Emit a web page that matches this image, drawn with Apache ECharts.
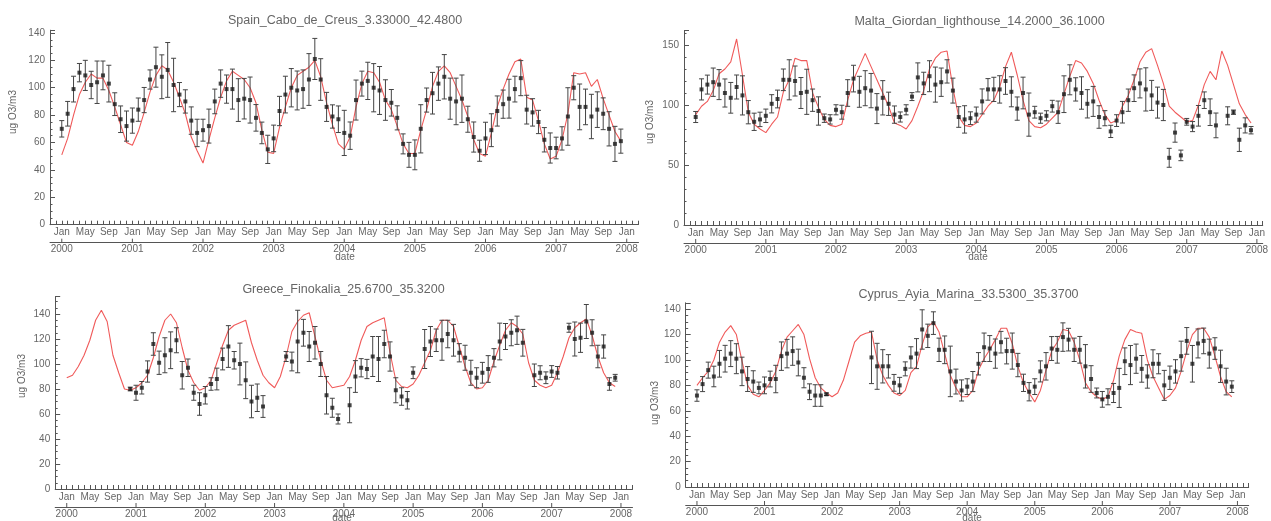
<!DOCTYPE html>
<html><head><meta charset="utf-8">
<script src="https://cdn.jsdelivr.net/npm/echarts@6/dist/echarts.min.js"></script>
<style>html,body{margin:0;padding:0;background:#fff}#c{width:1271px;height:521px}</style>
</head><body><div id="c"></div>
<script>
const years = [2000,2001,2002,2003,2004,2005,2006,2007,2008];
const monthNames = ['Jan','Feb','Mar','Apr','May','Jun','Jul','Aug','Sep','Oct','Nov','Dec'];
const yAxisName = 'ug O3/m3';
const xAxisName = 'date';
const titles = ['Spain_Cabo_de_Creus_3.33000_42.4800','Malta_Giordan_lighthouse_14.2000_36.1000','Greece_Finokalia_25.6700_35.3200','Cyprus_Ayia_Marina_33.5300_35.3700'];

const spainModel = [
51,63,80,95,104,110,107,107,98,86,73,60,
58,68,82,97,109,116,113,104,93,81,64,54,
45,62,78,93,105,112,109,106,100,89,69,53,
52,71,86,100,109,112,115,120,108,89,73,59,
55,64,86,103,112,111,104,91,84,72,59,52,
52,69,84,101,112,116,111,101,91,79,62,52,
50,67,86,99,110,119,121,93,91,76,59,48,
50,62,81,111,110,111,101,106,92,80,68,61];
const spainObs = [
70,81,99,111,109,102,104,109,103,88,77,72,
76,84,91,106,115,108,113,102,95,90,76,67,
69,72,90,103,99,99,91,92,91,78,67,55,
63,83,95,100,98,99,106,121,106,86,79,77,
67,65,91,103,105,100,98,91,89,78,59,51,
51,70,91,96,103,108,92,90,92,77,64,54,
63,69,83,88,92,99,107,84,82,75,62,56,
56,63,79,100,86,86,79,84,81,70,59,61];
const spainErr = [
6,9,9.4,6.7,11,10,15.5,10.5,13.4,8.3,9.7,11,
9.2,8.5,9.2,7,14.6,16,20,19.5,8.8,8.5,10,10,
8,12.4,9,10,10.3,14.6,15.6,14.8,16.8,9.7,7.9,10.3,
9.7,10.7,13.4,14,14.2,14,18.9,15,15.2,10.6,8.5,9.7,
16.5,10,14.6,9.1,13.6,17.6,17.5,14.8,9.7,8.8,7.3,9.1,
10.9,17.6,8.8,15.2,12.2,16.2,15,17,17.3,9.5,11,7.7,
11.8,12,11,10.3,14.2,9.4,12.8,10.5,10,8.5,8.9,11,
7.9,8.5,21,8.8,16.7,13,16.2,13,11.6,12.5,12.8,8.8];

const maltaModel = [
92,99,103,112,126,130,136,155,125,94,84,80,
77,84,90,111,121,139,137,137,110,98,88,83,
82,84,104,121,132,143,132,121,110,99,85,83,
80,87,99,112,130,139,144,145,114,90,83,82,
85,92,99,104,115,132,144,125,104,87,82,81,
84,89,94,109,124,137,135,128,118,104,92,85,
87,99,108,121,136,144,147,133,118,99,94,90,
86,87,100,117,128,121,145,133,117,101,92,85];
const maltaObs = [
90,113,117,119,117,110,106,115,108,94,86,88,
91,101,105,121,121,120,110,111,104,95,89,88,
96,94,110,122,111,114,112,97,106,101,92,90,
96,107,123,118,124,117,119,128,112,90,88,89,
92,103,113,113,113,120,111,97,110,92,94,89,
91,99,94,109,121,113,110,101,103,90,89,78,
87,94,104,114,118,113,108,102,100,56,77,58,
86,82,91,104,94,83,null,91,94,71,83,79];
const maltaErr = [
4.6,8.8,7.9,11.8,12.5,11.7,12.8,10,16.3,9.7,7.2,6,
5.6,7.6,7.4,9,16.7,12.5,12.9,18.8,9.3,11.8,3.5,3.9,
4.2,5.8,11.1,11.1,12.9,14.6,14.3,12.5,14.3,9.7,7.2,4.2,
4.2,3.3,12.1,9.3,12.9,14.6,11.8,9.7,10.4,8.6,11.4,5.3,
6.3,10.4,9,10.1,11.4,11.1,12.5,9.7,13.2,18,4.9,4.2,
4.2,4.9,9.3,15.3,12.5,9.7,13.5,11.8,12.5,9.4,6.3,5.1,
4.9,9,9.3,11.1,12.1,18,12.5,12.9,13,7.9,8,4.4,
2.8,4.2,8.6,6.9,11.1,10.3,null,7.5,1.8,9.7,6.3,3.1];

const greeceModel = [
89,91,98,107,119,135,143,134,107,93,80,79,
81,85,91,105,122,135,140,133,113,95,85,79,
81,87,101,115,127,131,133,135,117,103,91,85,
81,90,106,126,134,139,141,122,103,87,81,82,
83,90,103,119,130,133,135,137,109,87,82,81,
84,91,101,111,127,135,135,130,114,98,85,80,
81,87,102,115,127,133,130,124,101,87,83,81,
83,93,106,121,129,133,136,123,106,93,85,82];
const greeceObs = [
null,null,null,null,null,null,null,null,null,null,null,80,
77,81,94,116,101,107,111,119,91,97,77,68,
75,84,88,104,114,103,100,87,70,73,66,null,
null,null,106,102,118,125,114,117,100,75,65,56,
null,67,90,97,96,106,104,116,106,79,74,71,
93,null,112,118,119,119,124,119,109,105,93,89,
93,96,105,118,122,125,127,117,null,91,93,89,
94,93,null,129,120,121,134,125,106,114,84,89];
const greeceErr = [
null,null,null,null,null,null,null,null,null,null,null,1.5,
6,5,8.5,9,9.3,14,14.7,10,11,7,6,9,
7,5,8.7,8.7,16.7,7,16.7,14.7,13,11,8.7,null,
null,null,4,7.5,25,10.7,12,13,10,15,7.6,4,
null,14,12.7,7.3,7.7,16,18,11,11.7,10,7,7,
4.7,null,15.6,12,9,16,11,12.7,7.3,10,10,8,
8.3,10.7,7.3,14.7,10.4,10.4,11.3,10.7,null,9,5.6,4.7,
4.7,5,null,3.6,13.6,11.7,13.6,10.4,9,9.3,5,2.7];

const cyprusModel = [
80,86,91,100,114,122,127,120,99,80,73,71,
76,82,91,107,118,123,128,120,101,86,78,74,
71,74,84,99,114,119,121,122,100,88,80,74,
72,76,90,95,112,126,130,122,105,88,78,71,
71,76,92,101,108,116,125,125,113,95,82,74,
67,76,92,107,114,124,123,114,100,82,75,71,
69,71,84,103,116,124,122,121,100,87,78,69,
72,78,91,107,120,125,125,118,103,87,75,71];
const cyprusObs = [
72,81,92,87,97,101,105,101,91,85,83,78,
80,85,85,103,105,107,98,86,75,72,72,73,
null,null,null,null,null,null,null,102,95,95,95,82,
80,93,102,105,124,119,129,108,108,91,83,76,
79,83,97,110,109,105,114,107,107,96,82,75,
79,91,95,109,108,118,116,108,108,95,85,74,
69,71,74,78,99,96,101,93,87,97,97,80,
86,91,103,115,97,113,115,105,109,95,83,79];
const cyprusErr = [
4.5,5.9,6.3,8.1,10.5,10.5,10.2,11.8,11.2,9.8,8.5,4.6,
6.6,6.2,10.8,11.2,11.2,11.2,10.5,7.9,6.2,8.5,8.5,1,
null,null,null,null,null,null,null,20.6,18.1,13.1,9.2,6.6,
6.3,5.5,8.4,11.8,15.5,9.2,8.9,9.2,10.9,19.9,9.8,8.3,
6.2,7.9,8.8,11.2,10.2,11.5,8.5,10.1,14.2,9.2,6.8,7.2,
6.2,8.3,10.8,9.4,10.5,11.2,8.9,9.2,10.5,17.1,10.5,3.9,
6.2,6.3,7.5,15.4,10.5,15.4,11.5,10.5,9.2,11,7.9,11.8,
9.2,9.2,11.8,10.5,14.4,11.4,10.1,11.4,8.5,12.7,10.5,4.6];

// ---- layout (positions / styles) ----
const FONT = '"Liberation Sans", Arial, sans-serif';
const TXT = '#666';
const AX = '#555';
const panels = [
  {title:titles[0], model:spainModel, obs:spainObs, err:spainErr,
   box:{left:50, top:30.2, width:588.5, height:194.5}, yMax:142, yInt:20, yMinor:4, xMax:98,
   titleXY:[345,21], yNameXY:[13,112], dateXY:[345,257]},
  {title:titles[1], model:maltaModel, obs:maltaObs, err:maltaErr,
   box:{left:684, top:30.6, width:582.6, height:194.4}, yMax:162, yInt:50, yMinor:5, xMax:97,
   titleXY:[979.5,22], yNameXY:[650,122], dateXY:[978,257]},
  {title:titles[2], model:greeceModel, obs:greeceObs, err:greeceErr,
   box:{left:55.2, top:296.5, width:577.3, height:192.5}, yMax:154, yInt:20, yMinor:4, xMax:98,
   titleXY:[343.5,290], yNameXY:[22,376], dateXY:[342,518]},
  {title:titles[3], model:cyprusModel, obs:cyprusObs, err:cyprusErr,
   box:{left:685.7, top:302.8, width:563, height:184.2}, yMax:145, yInt:20, yMinor:4, xMax:98,
   titleXY:[968.5,295], yNameXY:[655.5,403], dateXY:[972,518]}
];

function monthLabel(v){
  const m = Math.round(v);
  if (m < 0 || m > 96 || m % 4 !== 0) return '';
  return monthNames[m % 12];
}
function yearLabel(v){
  const m = Math.round(v);
  if (m < 0 || m % 12 !== 0) return '';
  const y = years[m / 12];
  return y === undefined ? '' : String(y);
}

const grid = [], xAxis = [], yAxis = [], series = [], graphic = [];
panels.forEach((p, i) => {
  grid.push(Object.assign({containLabel:false}, p.box));
  xAxis.push({
    type:'value', gridIndex:i, min:-2, max:p.xMax, interval:1, position:'bottom',
    axisLine:{show:true, onZero:false, lineStyle:{color:AX, width:1}},
    axisTick:{show:true, inside:true, length:4, lineStyle:{color:AX, width:1}},
    axisLabel:{interval:0, margin:3, fontSize:10, color:TXT, fontFamily:FONT, formatter:monthLabel,
      showMinLabel:true, showMaxLabel:true},
    splitLine:{show:false}
  });
  xAxis.push({
    type:'value', gridIndex:i, min:-2, max:p.xMax, interval:1, position:'bottom', offset:18,
    axisLine:{show:true, onZero:false, lineStyle:{color:AX, width:1}},
    axisTick:{show:false},
    axisLabel:{interval:0, margin:2, fontSize:10, color:TXT, fontFamily:FONT, formatter:yearLabel,
      showMinLabel:true, showMaxLabel:true},
    splitLine:{show:false}
  });
  yAxis.push({
    type:'value', gridIndex:i, min:0, max:p.yMax, interval:p.yInt,
    axisLine:{show:true, onZero:false, lineStyle:{color:AX, width:1}},
    axisTick:{show:true, inside:true, length:5, lineStyle:{color:AX}},
    minorTick:{show:true, splitNumber:p.yMinor, length:2.5, lineStyle:{color:AX}},
    axisLabel:{margin:5, fontSize:10, color:TXT, fontFamily:FONT, showMaxLabel:false},
    splitLine:{show:false}
  });
  const xi = 2 * i;
  series.push({
    type:'line', xAxisIndex:xi, yAxisIndex:i, showSymbol:false, silent:true, z:2,
    lineStyle:{color:'#f05a5a', width:1.1},
    data:p.model.map((v, m) => [m, v])
  });
  const errData = [];
  p.obs.forEach((v, m) => { if (v !== null && p.err[m] !== null) errData.push([m, v - p.err[m], v + p.err[m]]); });
  series.push({
    type:'custom', xAxisIndex:xi, yAxisIndex:i, silent:true, z:3,
    data:errData,
    renderItem:(params, api) => {
      const x = api.value(0);
      const a = api.coord([x, api.value(1)]);
      const b = api.coord([x, api.value(2)]);
      const w = 2.5;
      const st = {stroke:'#444', lineWidth:1};
      return {type:'group', children:[
        {type:'line', shape:{x1:a[0], y1:a[1], x2:b[0], y2:b[1]}, style:st},
        {type:'line', shape:{x1:a[0]-w, y1:a[1], x2:a[0]+w, y2:a[1]}, style:st},
        {type:'line', shape:{x1:b[0]-w, y1:b[1], x2:b[0]+w, y2:b[1]}, style:st}
      ]};
    }
  });
  const obsData = [];
  p.obs.forEach((v, m) => { if (v !== null) obsData.push([m, v]); });
  series.push({
    type:'scatter', xAxisIndex:xi, yAxisIndex:i, silent:true, z:4,
    symbol:'rect', symbolSize:4, itemStyle:{color:'#1a1a1a'},
    data:obsData
  });
  // year ticks on the lower (year) axis line
  series.push({
    type:'custom', xAxisIndex:xi, yAxisIndex:i, silent:true, z:3, clip:false,
    data:years.map((y, k) => [k * 12, 0]),
    renderItem:(params, api) => {
      const c = api.coord([api.value(0), api.value(1)]);
      return {type:'line', shape:{x1:c[0], y1:c[1] + 18, x2:c[0], y2:c[1] + 14}, style:{stroke:AX, lineWidth:1}};
    }
  });
  graphic.push({type:'text', x:p.titleXY[0], y:p.titleXY[1], silent:true,
    style:{text:p.title, fill:TXT, font:'12.5px ' + FONT, textAlign:'center', textVerticalAlign:'middle'}});
  graphic.push({type:'text', x:p.yNameXY[0], y:p.yNameXY[1], rotation:Math.PI/2, silent:true,
    style:{text:yAxisName, fill:TXT, font:'10px ' + FONT, textAlign:'center', textVerticalAlign:'middle'}});
  graphic.push({type:'text', x:p.dateXY[0], y:p.dateXY[1], silent:true,
    style:{text:xAxisName, fill:TXT, font:'10px ' + FONT, textAlign:'center', textVerticalAlign:'middle'}});
});

const chart = echarts.init(document.getElementById('c'), null, {renderer:'canvas'});
chart.setOption({animation:false, backgroundColor:'#fff', grid, xAxis, yAxis, series, graphic});
</script>
</body></html>
